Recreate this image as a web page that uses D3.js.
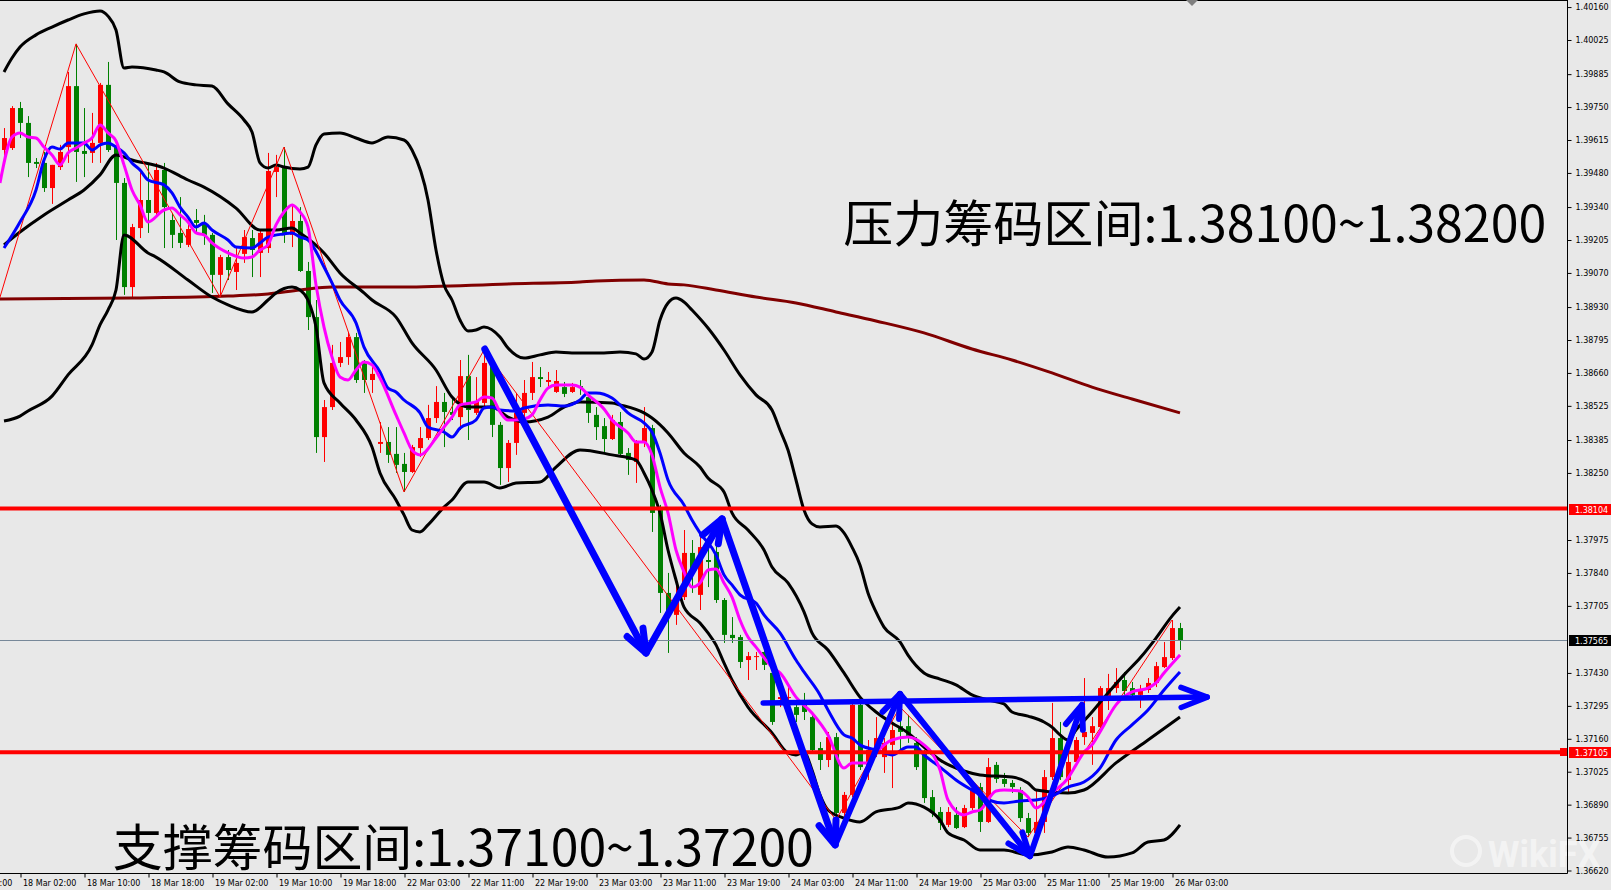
<!DOCTYPE html>
<html><head><meta charset="utf-8">
<script src="https://cdn.jsdelivr.net/npm/d3@7"></script>
<style>
html,body{margin:0;padding:0;background:#e8e8e8;}
svg{display:block;}
</style></head><body>
<svg id="c" width="1611" height="890"></svg>
<script>
// ---- candle data (H1, bar index 0..147) ----
const opens = [1.39574,1.39582,1.39746,1.39685,1.39525,1.39521,1.39418,1.39504,1.39586,1.39836,
1.39570,1.39562,1.39603,1.39841,1.39586,1.39439,1.39012,1.39254,1.39369,1.39316,
1.39492,1.39287,1.39234,1.39185,1.39287,1.39275,1.39226,1.39062,1.39135,1.39074,
1.39148,1.39213,1.39152,1.39172,1.39484,1.39500,1.39226,1.39283,1.39078,1.38889,
1.38397,1.38520,1.38701,1.38725,1.38807,1.38705,1.38631,1.38369,1.38377,1.38328,
1.38287,1.38254,1.38352,1.38393,1.38475,1.38541,1.38500,1.38479,1.38647,1.38496,
1.38537,1.38701,1.38447,1.38270,1.38373,1.38496,1.38578,1.38643,1.38623,1.38582,
1.38602,1.38582,1.38606,1.38561,1.38488,1.38442,1.38389,1.38459,1.38332,1.38295,
1.38373,1.38434,1.38110,1.37758,1.37668,1.37741,1.37922,1.37750,1.37893,1.37926,
1.37729,1.37586,1.37577,1.37483,1.37495,1.37516,1.37430,1.37323,1.37327,1.37290,
1.37299,1.37249,1.37122,1.37073,1.37167,1.36856,1.36930,1.37299,1.37032,1.37106,
1.37085,1.37135,1.37212,1.37212,1.37143,1.37102,1.36921,1.36860,1.36807,1.36848,
1.36798,1.36876,1.36962,1.36819,1.37053,1.36995,1.36979,1.36950,1.36835,1.36774,
1.36819,1.37003,1.37163,1.36991,1.37065,1.37167,1.37184,1.37208,1.37319,1.37368,
1.37401,1.37368,1.37340,1.37360,1.37389,1.37454,1.37491,1.37614];
const highs = [1.39664,1.39754,1.39771,1.39713,1.39541,1.39566,1.39513,1.39595,1.39894,1.40009,
1.39746,1.39726,1.39849,1.39935,1.39615,1.39459,1.39271,1.39492,1.39521,1.39521,
1.39521,1.39316,1.39381,1.39287,1.39332,1.39308,1.39234,1.39144,1.39164,1.39176,
1.39246,1.39246,1.39246,1.39562,1.39554,1.39586,1.39353,1.39340,1.39115,1.38959,
1.38549,1.38775,1.38787,1.38828,1.38824,1.38713,1.38684,1.38459,1.38438,1.38438,
1.38332,1.38365,1.38438,1.38529,1.38606,1.38578,1.38561,1.38713,1.38734,1.38643,
1.38754,1.38721,1.38459,1.38385,1.38578,1.38631,1.38705,1.38684,1.38664,1.38672,
1.38623,1.38619,1.38631,1.38578,1.38520,1.38475,1.38488,1.38500,1.38352,1.38385,
1.38520,1.38447,1.38119,1.37840,1.37811,1.38016,1.37975,1.37987,1.37963,1.37975,
1.37737,1.37659,1.37586,1.37516,1.37516,1.37565,1.37442,1.37360,1.37372,1.37307,
1.37348,1.37270,1.37147,1.37188,1.37184,1.36942,1.37307,1.37311,1.37155,1.37249,
1.37163,1.37225,1.37290,1.37258,1.37167,1.37114,1.36950,1.36880,1.36880,1.36880,
1.36889,1.36979,1.36979,1.37081,1.37065,1.37020,1.36991,1.36962,1.36856,1.36950,
1.37032,1.37307,1.37229,1.37102,1.37167,1.37409,1.37249,1.37376,1.37426,1.37450,
1.37434,1.37393,1.37381,1.37409,1.37475,1.37557,1.37647,1.37635];
const lows = [1.39541,1.39574,1.39623,1.39463,1.39500,1.39402,1.39353,1.39492,1.39521,1.39443,
1.39463,1.39521,1.39521,1.39566,1.39205,1.38980,1.38971,1.39213,1.39234,1.39299,
1.39172,1.39172,1.39172,1.39176,1.39234,1.39185,1.38988,1.38971,1.39041,1.39000,
1.39111,1.39053,1.39053,1.39152,1.39381,1.39193,1.39176,1.39074,1.38836,1.38332,
1.38295,1.38508,1.38684,1.38693,1.38619,1.38578,1.38578,1.38332,1.38291,1.38250,
1.38172,1.38250,1.38315,1.38385,1.38455,1.38356,1.38467,1.38426,1.38385,1.38488,
1.38524,1.38397,1.38201,1.38213,1.38324,1.38455,1.38549,1.38602,1.38602,1.38578,
1.38561,1.38578,1.38570,1.38455,1.38385,1.38336,1.38385,1.38315,1.38242,1.38209,
1.38356,1.38008,1.37676,1.37512,1.37627,1.37729,1.37758,1.37688,1.37782,1.37717,
1.37553,1.37553,1.37450,1.37401,1.37442,1.37442,1.37217,1.37290,1.37290,1.37229,
1.37237,1.37102,1.37032,1.37044,1.36827,1.36827,1.36921,1.37032,1.36991,1.37085,
1.37020,1.36958,1.37114,1.37143,1.37032,1.36897,1.36839,1.36786,1.36798,1.36790,
1.36794,1.36868,1.36778,1.36815,1.36979,1.36962,1.36938,1.36819,1.36757,1.36757,
1.36774,1.36991,1.36991,1.36938,1.37053,1.37135,1.37053,1.37204,1.37278,1.37348,
1.37340,1.37319,1.37286,1.37348,1.37372,1.37450,1.37483,1.37524];
const closes = [1.39623,1.39746,1.39685,1.39521,1.39517,1.39418,1.39513,1.39566,1.39836,1.39566,
1.39558,1.39603,1.39841,1.39574,1.39439,1.39012,1.39258,1.39369,1.39316,1.39492,
1.39340,1.39226,1.39193,1.39250,1.39275,1.39226,1.39062,1.39135,1.39082,1.39111,
1.39217,1.39164,1.39234,1.39488,1.39504,1.39234,1.39283,1.39078,1.38889,1.38397,
1.38520,1.38701,1.38725,1.38807,1.38631,1.38631,1.38656,1.38377,1.38324,1.38283,
1.38254,1.38356,1.38393,1.38475,1.38541,1.38500,1.38488,1.38647,1.38508,1.38541,
1.38701,1.38447,1.38270,1.38373,1.38496,1.38578,1.38643,1.38635,1.38631,1.38627,
1.38574,1.38602,1.38598,1.38496,1.38438,1.38389,1.38467,1.38328,1.38303,1.38373,
1.38434,1.38086,1.37758,1.37668,1.37741,1.37922,1.37840,1.37946,1.37885,1.37729,
1.37586,1.37573,1.37475,1.37499,1.37499,1.37463,1.37229,1.37331,1.37331,1.37258,
1.37270,1.37114,1.37073,1.37167,1.36856,1.36930,1.37299,1.37044,1.37114,1.37163,
1.37143,1.37196,1.37188,1.37167,1.37044,1.36917,1.36856,1.36815,1.36860,1.36794,
1.36876,1.36958,1.36819,1.37044,1.36995,1.36975,1.36962,1.36835,1.36774,1.36819,
1.37003,1.37163,1.37003,1.37065,1.37155,1.37188,1.37212,1.37368,1.37368,1.37393,
1.37356,1.37340,1.37356,1.37389,1.37458,1.37495,1.37614,1.37565];

// ---- axis labels ----
const timeLabelBars = [-6,2,10,18,26,34,42,50,58,66,74,82,90,98,106,114,122,130,138,146];
const timeLabels = ["17 Mar 18:00","18 Mar 02:00","18 Mar 10:00","18 Mar 18:00","19 Mar 02:00","19 Mar 10:00","19 Mar 18:00","22 Mar 03:00","22 Mar 11:00","22 Mar 19:00","23 Mar 03:00","23 Mar 11:00","23 Mar 19:00","24 Mar 03:00","24 Mar 11:00","24 Mar 19:00","25 Mar 03:00","25 Mar 11:00","25 Mar 19:00","26 Mar 03:00"];
const priceTicks = [1.40160,1.40025,1.39885,1.39750,1.39615,1.39480,1.39340,1.39205,1.39070,1.38930,1.38795,1.38660,1.38525,1.38385,1.38250,1.37975,1.37840,1.37705,1.37430,1.37295,1.37160,1.37025,1.36890,1.36755,1.36620];

// ---- indicators: [bar index, price] ----
const bbUpper = [[0,1.39894],[1,1.39951],[2,1.39996],[4,1.40046],[6,1.40078],[8,1.40107],[10,1.40132],[12,1.40144],[13,1.40123],[14,1.40066],[15,1.39910],[16,1.39914],[19,1.39902],[20,1.39894],[22,1.39853],[24,1.39841],[26,1.39836],[28,1.39763],[30,1.39697],[31,1.39648],[32,1.39521],[33,1.39500],[34,1.39513],[35,1.39504],[37,1.39496],[38,1.39504],[39,1.39595],[40,1.39640],[42,1.39644],[44,1.39623],[46,1.39603],[48,1.39627],[50,1.39615],[51,1.39574],[53,1.39369],[54,1.39164],[55,1.39021],[56,1.38959],[57,1.38877],[58,1.38832],[59,1.38836],[60,1.38848],[62,1.38807],[63,1.38762],[65,1.38721],[67,1.38734],[69,1.38746],[71,1.38742],[75,1.38742],[77,1.38746],[79,1.38738],[80,1.38717],[81,1.38746],[82,1.38877],[83,1.38947],[84,1.38967],[85,1.38951],[86,1.38918],[88,1.38844],[90,1.38754],[92,1.38652],[94,1.38570],[96,1.38508],[97,1.38426],[98,1.38344],[99,1.38221],[100,1.38098],[101,1.38041],[102,1.38028],[104,1.38032],[105,1.38004],[106,1.37946],[107,1.37873],[108,1.37758],[109,1.37680],[110,1.37618],[112,1.37557],[113,1.37503],[115,1.37430],[117,1.37405],[119,1.37381],[121,1.37340],[123,1.37319],[125,1.37303],[126,1.37270],[128,1.37253],[130,1.37229],[131,1.37208],[132,1.37176],[133,1.37155],[134,1.37196],[136,1.37270],[138,1.37348],[140,1.37422],[142,1.37491],[144,1.37573],[146,1.37663],[147,1.37700]];
const bbMiddle = [[0,1.39185],[2,1.39238],[5,1.39308],[8,1.39369],[10,1.39410],[12,1.39472],[14,1.39554],[16,1.39533],[20,1.39500],[23,1.39451],[25,1.39422],[29,1.39336],[32,1.39246],[34,1.39246],[36,1.39254],[37,1.39234],[40,1.39152],[42,1.39070],[45,1.38988],[46,1.38959],[49,1.38889],[51,1.38783],[54,1.38672],[56,1.38561],[58,1.38520],[60,1.38520],[61,1.38520],[63,1.38479],[65,1.38459],[68,1.38479],[70,1.38520],[72,1.38541],[76,1.38537],[77,1.38529],[80,1.38496],[81,1.38475],[83,1.38414],[85,1.38332],[87,1.38274],[88,1.38229],[90,1.38172],[91,1.38086],[93,1.38016],[95,1.37934],[96,1.37864],[98,1.37799],[100,1.37680],[101,1.37594],[103,1.37524],[105,1.37430],[107,1.37331],[109,1.37270],[111,1.37225],[113,1.37184],[115,1.37126],[117,1.37073],[120,1.37028],[122,1.37012],[126,1.37003],[128,1.36979],[129,1.36950],[133,1.36938],[135,1.36950],[139,1.37061],[143,1.37155],[147,1.37249]];
const bbLower = [[0,1.38463],[2,1.38483],[3,1.38504],[6,1.38565],[8,1.38652],[11,1.38775],[12,1.38857],[13,1.38918],[14,1.39000],[15,1.39226],[18,1.39152],[19,1.39135],[23,1.39041],[26,1.38971],[28,1.38939],[31,1.38910],[33,1.38959],[34,1.38988],[36,1.39012],[37,1.39000],[38,1.38959],[39,1.38848],[40,1.38619],[42,1.38537],[44,1.38467],[46,1.38356],[47,1.38250],[49,1.38139],[50,1.38078],[51,1.38016],[52,1.38008],[53,1.38037],[55,1.38110],[56,1.38139],[58,1.38213],[60,1.38213],[62,1.38188],[64,1.38209],[67,1.38213],[69,1.38274],[72,1.38344],[76,1.38324],[79,1.38303],[80,1.38250],[81,1.38180],[82,1.38086],[83,1.37934],[84,1.37811],[85,1.37700],[87,1.37635],[88,1.37594],[89,1.37545],[90,1.37471],[91,1.37401],[93,1.37290],[96,1.37184],[98,1.37102],[99,1.37094],[100,1.37106],[101,1.37032],[102,1.36930],[103,1.36868],[105,1.36835],[107,1.36819],[109,1.36860],[112,1.36880],[113,1.36897],[115,1.36880],[117,1.36827],[118,1.36774],[120,1.36745],[122,1.36704],[125,1.36704],[128,1.36684],[131,1.36696],[133,1.36716],[135,1.36704],[138,1.36675],[141,1.36692],[143,1.36737],[145,1.36745],[147,1.36807]];
const maBlue = [[0,1.39172],[2,1.39279],[4,1.39410],[5,1.39533],[6,1.39586],[7,1.39578],[8,1.39603],[10,1.39603],[11,1.39574],[12,1.39595],[13,1.39603],[14,1.39586],[15,1.39562],[16,1.39521],[17,1.39492],[18,1.39451],[20,1.39431],[21,1.39398],[22,1.39340],[23,1.39299],[24,1.39258],[25,1.39275],[26,1.39246],[28,1.39205],[29,1.39176],[31,1.39172],[32,1.39193],[33,1.39217],[35,1.39230],[36,1.39234],[37,1.39217],[38,1.39205],[40,1.39094],[41,1.39029],[42,1.38959],[44,1.38865],[45,1.38766],[47,1.38664],[48,1.38598],[49,1.38582],[50,1.38549],[52,1.38496],[53,1.38438],[55,1.38418],[56,1.38397],[57,1.38434],[59,1.38467],[60,1.38516],[61,1.38520],[62,1.38508],[64,1.38504],[65,1.38516],[68,1.38529],[70,1.38524],[72,1.38549],[73,1.38578],[74,1.38578],[76,1.38557],[77,1.38529],[78,1.38496],[80,1.38455],[81,1.38418],[82,1.38332],[83,1.38221],[85,1.38119],[86,1.38057],[87,1.38004],[89,1.37914],[90,1.37832],[91,1.37791],[92,1.37750],[94,1.37717],[95,1.37668],[97,1.37594],[99,1.37483],[100,1.37434],[102,1.37340],[103,1.37278],[105,1.37176],[106,1.37163],[107,1.37135],[109,1.37114],[111,1.37094],[113,1.37126],[114,1.37126],[115,1.37094],[117,1.37044],[119,1.36991],[122,1.36930],[123,1.36909],[125,1.36897],[127,1.36905],[129,1.36909],[131,1.36925],[133,1.36962],[135,1.36983],[137,1.37040],[139,1.37155],[141,1.37217],[143,1.37278],[145,1.37360],[147,1.37434]];
const maMagenta = [[-0.5,1.39439],[1,1.39627],[2,1.39644],[3,1.39627],[4,1.39623],[5,1.39586],[6,1.39554],[7,1.39513],[8,1.39562],[9,1.39582],[10,1.39603],[11,1.39623],[12,1.39677],[13,1.39644],[14,1.39611],[15,1.39513],[16,1.39410],[17,1.39349],[18,1.39279],[20,1.39328],[21,1.39336],[22,1.39308],[23,1.39279],[24,1.39234],[25,1.39226],[26,1.39193],[28,1.39152],[30,1.39131],[31,1.39135],[32,1.39164],[33,1.39185],[34,1.39267],[35,1.39320],[36,1.39349],[37,1.39320],[38,1.39258],[39,1.39021],[40,1.38848],[41,1.38725],[42,1.38643],[43,1.38631],[44,1.38672],[45,1.38705],[46,1.38693],[47,1.38639],[49,1.38488],[50,1.38414],[51,1.38344],[52,1.38324],[54,1.38393],[55,1.38438],[56,1.38479],[57,1.38529],[59,1.38541],[60,1.38561],[61,1.38557],[62,1.38500],[63,1.38467],[64,1.38467],[65,1.38471],[66,1.38488],[67,1.38549],[68,1.38598],[69,1.38611],[71,1.38611],[72,1.38602],[73,1.38570],[75,1.38512],[76,1.38467],[78,1.38414],[79,1.38377],[80,1.38377],[81,1.38324],[82,1.38192],[83,1.38086],[84,1.37934],[85,1.37844],[86,1.37782],[87,1.37799],[88,1.37852],[89,1.37856],[90,1.37799],[91,1.37741],[92,1.37647],[93,1.37577],[94,1.37536],[96,1.37454],[97,1.37430],[99,1.37331],[101,1.37266],[103,1.37176],[105,1.37040],[106,1.37061],[108,1.37061],[109,1.37102],[111,1.37155],[113,1.37167],[115,1.37135],[116,1.37102],[117,1.37032],[118,1.36909],[120,1.36848],[121,1.36860],[122,1.36868],[124,1.36946],[125,1.36950],[127,1.36946],[128,1.36921],[129,1.36876],[131,1.36938],[133,1.36999],[134,1.37053],[135,1.37106],[136,1.37135],[137,1.37188],[139,1.37299],[141,1.37352],[143,1.37368],[144,1.37389],[145,1.37430],[147,1.37504]];
const ma200 = [[-0.5,1.38963],[16,1.38967],[28,1.38975],[33,1.38984],[37,1.39000],[41,1.39012],[50,1.39012],[63,1.39025],[72,1.39033],[74,1.39037],[80,1.39041],[83,1.39025],[85,1.39021],[89,1.39000],[94,1.38971],[99,1.38947],[104,1.38910],[109,1.38873],[115,1.38824],[121,1.38758],[126,1.38713],[131,1.38660],[136,1.38602],[141,1.38553],[147,1.38496]];
const zigzag = [[-2,1.38807],[9,1.40009],[27,1.38971],[35,1.39586],[50,1.38172],[60,1.38754],[104,1.36827],[112,1.37290],[128,1.36757],[146,1.37647]];

// ---- annotations ----
const levelLines = [1.38104, 1.37105];
const lastPrice = 1.37565;
const trendArrows = [[60.1,1.38758],[80.25,1.37512],[89.75,1.38061],[103.9,1.36725],[112,1.37344],[128.25,1.36679],[134.75,1.37299]];
const flatArrow = [[94.9,1.37307],[150.4,1.37331]];
const notes = [
  {text:"压力筹码区间:1.38100~1.38200", bar:104.9, price:1.39195, width:703},
  {text:"支撑筹码区间:1.37100~1.37200", bar:13.6, price:1.36638, width:701}
];

// ---- layout ----
const W = 1611, H = 890, axisX = 1567, axisY = 873;
const svg = d3.select("#c");
const x = d3.scaleLinear().domain([0,147]).range([4,1180]);
const y = d3.scaleLinear().domain([1.36620,1.40160]).range([870.5,7.07]);

svg.append("rect").attr("width",W).attr("height",H).attr("fill","#e8e8e8");
svg.append("defs").append("clipPath").attr("id","plot")
  .append("rect").attr("x",0).attr("y",0).attr("width",axisX).attr("height",axisY);
const plot = svg.append("g").attr("clip-path","url(#plot)");

// candles
const idx = d3.range(opens.length);
const cg = plot.append("g");
idx.forEach(i=>{
  const up = closes[i] > opens[i];
  const col = up ? "#ff0000" : "#008000";
  const cx = Math.round(x(i));
  cg.append("line").attr("x1",cx+0.5).attr("x2",cx+0.5)
    .attr("y1",y(highs[i])).attr("y2",y(lows[i])).attr("stroke",col).attr("stroke-width",1);
  const top = y(Math.max(opens[i],closes[i])), bot = y(Math.min(opens[i],closes[i]));
  cg.append("rect").attr("x",cx-2).attr("width",5)
    .attr("y",top).attr("height",Math.max(1,bot-top)).attr("fill",col);
});

const line = d3.line().x(d=>x(d[0])).y(d=>y(d[1])).curve(d3.curveMonotoneX);
const straight = d3.line().x(d=>x(d[0])).y(d=>y(d[1]));

plot.append("path").attr("d",line(ma200)).attr("fill","none").attr("stroke","#800000").attr("stroke-width",3);
[bbUpper,bbMiddle,bbLower].forEach(s=>{
  plot.append("path").attr("d",line(s)).attr("fill","none").attr("stroke","#000").attr("stroke-width",3).attr("stroke-linejoin","round");
});
plot.append("path").attr("d",straight(zigzag)).attr("fill","none").attr("stroke","#ff0000").attr("stroke-width",1);
plot.append("path").attr("d",line(maBlue)).attr("fill","none").attr("stroke","#0000ff").attr("stroke-width",3);
plot.append("path").attr("d",line(maMagenta)).attr("fill","none").attr("stroke","#ff00ff").attr("stroke-width",3);

// current price line
plot.append("line").attr("x1",0).attr("x2",axisX).attr("y1",Math.round(y(lastPrice))+0.5).attr("y2",Math.round(y(lastPrice))+0.5)
  .attr("stroke","#778899").attr("stroke-width",1);
// level lines
levelLines.forEach(p=>{
  plot.append("line").attr("x1",0).attr("x2",axisX).attr("y1",y(p)).attr("y2",y(p))
    .attr("stroke","#ff0000").attr("stroke-width",4);
});

// arrows
function head(p1,p2,L=25,ang=21){
  const a = Math.atan2(p2[1]-p1[1],p2[0]-p1[0]), w = ang*Math.PI/180;
  return [[p2[0]-L*Math.cos(a-w),p2[1]-L*Math.sin(a-w)],p2,[p2[0]-L*Math.cos(a+w),p2[1]-L*Math.sin(a+w)]];
}
const ag = plot.append("g").attr("fill","none").attr("stroke","#0000ff").attr("stroke-linecap","round").attr("stroke-linejoin","round");
for(let k=1;k<trendArrows.length;k++){
  const p1=[x(trendArrows[k-1][0]),y(trendArrows[k-1][1])], p2=[x(trendArrows[k][0]),y(trendArrows[k][1])];
  const sw = k<=3 ? 7 : 6;
  ag.append("line").attr("x1",p1[0]).attr("y1",p1[1]).attr("x2",p2[0]).attr("y2",p2[1]).attr("stroke-width",sw);
  ag.append("path").attr("d",d3.line()(head(p1,p2))).attr("stroke-width",sw);
}
{
  const p1=[x(flatArrow[0][0]),y(flatArrow[0][1])], p2=[x(flatArrow[1][0]),y(flatArrow[1][1])];
  ag.append("line").attr("x1",p1[0]).attr("y1",p1[1]).attr("x2",p2[0]).attr("y2",p2[1]).attr("stroke-width",5.5);
  ag.append("path").attr("d",d3.line()(head(p1,p2,28,21))).attr("stroke-width",5.5);
}

// texts
notes.forEach(n=>{
  svg.append("text").attr("x",x(n.bar)).attr("y",y(n.price))
    .attr("font-family","'Noto Sans CJK SC','Noto Sans',sans-serif").attr("font-size",50)
    .attr("textLength",n.width).attr("lengthAdjust","spacingAndGlyphs")
    .attr("fill","#000").text(n.text);
});

// watermark
const wm = svg.append("g").attr("opacity",0.5);
wm.append("circle").attr("cx",1466).attr("cy",851).attr("r",14).attr("fill","none").attr("stroke","#fff").attr("stroke-width",4);
wm.append("text").attr("x",1488).attr("y",867).attr("font-family","Roboto, sans-serif").attr("font-weight",700)
  .attr("font-size",36).attr("fill","#fff").text("WikiFX");

// frame
svg.append("line").attr("x1",0).attr("x2",axisX).attr("y1",0.5).attr("y2",0.5).attr("stroke","#000");
svg.append("line").attr("x1",axisX+0.5).attr("x2",axisX+0.5).attr("y1",0).attr("y2",axisY+0.5).attr("stroke","#000");
svg.append("line").attr("x1",0).attr("x2",axisX+0.5).attr("y1",axisY+0.5).attr("y2",axisY+0.5).attr("stroke","#000");
svg.append("path").attr("d","M1186,0 L1198,0 L1192,6 Z").attr("fill","#7f7f7f");

// y axis
const yAxis = d3.axisRight(y).tickValues(priceTicks).tickFormat(d3.format(".5f")).tickSize(4).tickPadding(4);
const ya = svg.append("g").attr("transform",`translate(${axisX+0.5},0)`).call(yAxis);
ya.select(".domain").remove();
ya.selectAll("text").attr("font-family","'DejaVu Sans',sans-serif").attr("font-size",8).attr("fill","#000");
ya.selectAll("line").attr("stroke","#000");

// x axis
const xAxis = d3.axisBottom(x).tickValues(timeLabelBars).tickFormat((d,k)=>timeLabels[k]).tickSize(4).tickPadding(3);
const xa = svg.append("g").attr("transform",`translate(0.5,${axisY+0.5})`).call(xAxis);
xa.select(".domain").remove();
xa.selectAll("text").attr("text-anchor","start").attr("x",2)
  .attr("font-family","'DejaVu Sans',sans-serif").attr("font-size",8).attr("fill","#000");
xa.selectAll("line").attr("stroke","#000");

// price labels on axis
function priceTag(p,bg){
  const yy = Math.round(y(p));
  svg.append("rect").attr("x",axisX+2).attr("y",yy-5).attr("width",W-axisX-2).attr("height",11).attr("fill",bg);
  svg.append("text").attr("x",axisX+8).attr("y",yy+3.5).attr("font-family","'DejaVu Sans',sans-serif")
    .attr("font-size",8).attr("fill","#fff").text(d3.format(".5f")(p));
}
svg.append("rect").attr("x",axisX-7).attr("y",Math.round(y(levelLines[1]))-4).attr("width",7).attr("height",8).attr("fill","#ff0000");
priceTag(levelLines[0],"#ff0000");
priceTag(levelLines[1],"#ff0000");
priceTag(lastPrice,"#000000");
</script>
</body></html>
